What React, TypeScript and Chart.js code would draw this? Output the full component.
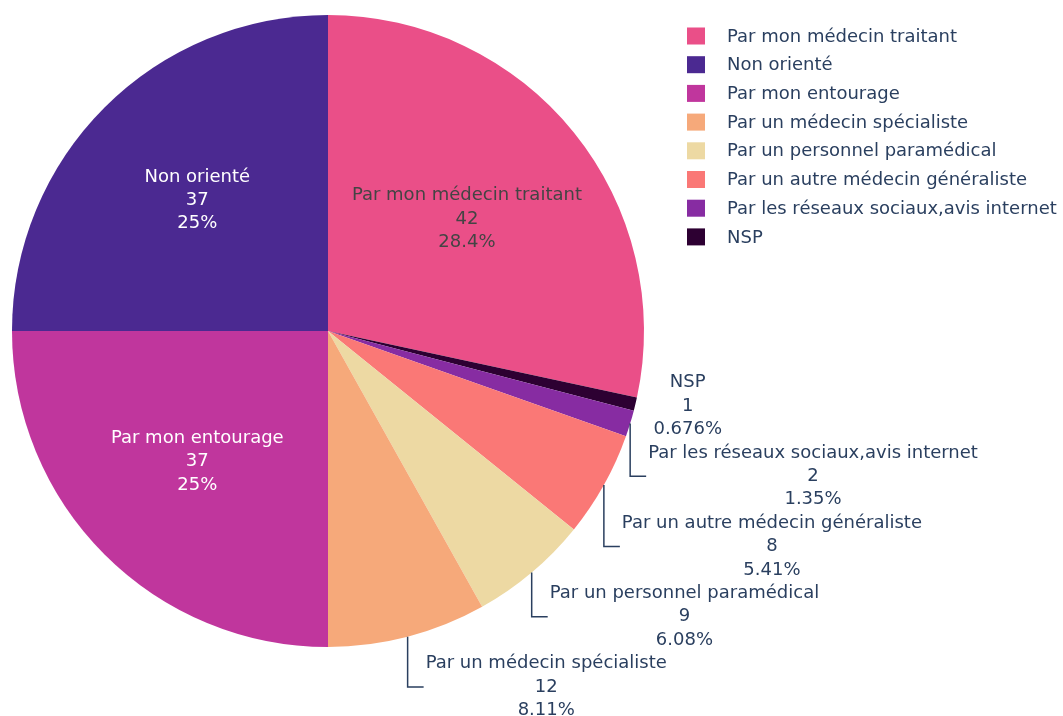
import React, { useEffect, useRef } from "react";
import { Chart, registerables } from "chart.js";

Chart.register(...registerables);

// Slices in clockwise order starting at 12 o'clock
const categories = [
  "Par mon médecin traitant",
  "NSP",
  "Par les réseaux sociaux,avis internet",
  "Par un autre médecin généraliste",
  "Par un personnel paramédical",
  "Par un médecin spécialiste",
  "Par mon entourage",
  "Non orienté",
];
const values = [42, 1, 2, 8, 9, 12, 37, 37];
const colors = [
  "rgb(234,79,136)",
  "rgb(45,0,50)",
  "rgb(135,44,162)",
  "rgb(250,120,118)",
  "rgb(237,217,163)",
  "rgb(246,169,122)",
  "rgb(192,54,157)",
  "rgb(75,41,145)",
];
// Legend order (indices into categories)
const legendOrder = [0, 7, 6, 5, 4, 3, 2, 1];
// Which slices get their text inside, and its colour
const insideIdx = [0, 6, 7];
const insideColor: Record<number, string> = { 0: "#444444", 6: "#ffffff", 7: "#ffffff" };
// Outside labels, in order down the right side
const outsideIdx = [1, 2, 3, 4, 5];

const FONT = '"DejaVu Sans", Verdana, sans-serif';
const FS = 18;
const LH = 23.4;
const TEXT_COLOR = "#2a3f5f";

function pct(v: number, total: number): string {
  return Number(((v / total) * 100).toPrecision(3)).toString() + "%";
}

const labelPlugin = {
  id: "pieLabels",
  afterDatasetsDraw(chart: any) {
    const ctx = chart.ctx as CanvasRenderingContext2D;
    const meta = chart.getDatasetMeta(0);
    const data = chart.data.datasets[0].data as number[];
    const labels = chart.data.labels as string[];
    const total = data.reduce((a, b) => a + b, 0);
    ctx.save();
    ctx.font = `${FS}px ${FONT}`;
    ctx.textAlign = "center";
    ctx.textBaseline = "middle";

    // inside labels
    insideIdx.forEach((i) => {
      const arc = meta.data[i];
      const { x, y, startAngle, endAngle, outerRadius } = arc.getProps(
        ["x", "y", "startAngle", "endAngle", "outerRadius"],
        true
      );
      const mid = (startAngle + endAngle) / 2;
      const r = outerRadius * (i === 0 ? 0.565 : 0.585);
      const cx = x + Math.cos(mid) * r;
      const cy = y + Math.sin(mid) * r;
      ctx.fillStyle = insideColor[i];
      const lines = [labels[i], String(data[i]), pct(data[i], total)];
      lines.forEach((t, k) => ctx.fillText(t, cx, cy + (k - 1) * LH));
    });

    // outside labels
    let prevY = -Infinity;
    ctx.strokeStyle = TEXT_COLOR;
    ctx.lineWidth = 1.5;
    outsideIdx.forEach((i, n) => {
      const arc = meta.data[i];
      const { x, y, startAngle, endAngle, outerRadius } = arc.getProps(
        ["x", "y", "startAngle", "endAngle", "outerRadius"],
        true
      );
      const mid = (startAngle + endAngle) / 2;
      const ex = x + Math.cos(mid) * outerRadius;
      const ey = y + Math.sin(mid) * outerRadius;
      let ty = n === 0 ? ey + 2 : Math.max(ey, prevY + 3 * LH);
      prevY = ty;
      const lines = [labels[i], String(data[i]), pct(data[i], total)];
      const w = Math.max(...lines.map((t) => ctx.measureText(t).width));
      const left = ex + 18;
      if (n > 0) {
        ctx.beginPath();
        ctx.moveTo(ex, ey);
        ctx.lineTo(ex, ty);
        ctx.lineTo(ex + 16, ty);
        ctx.stroke();
      }
      ctx.fillStyle = TEXT_COLOR;
      lines.forEach((t, k) => ctx.fillText(t, left + w / 2, ty + (k - 1) * LH));
    });

    // legend
    ctx.textAlign = "left";
    legendOrder.forEach((i, k) => {
      const cy = 36 + k * 28.7;
      ctx.fillStyle = colors[i];
      ctx.fillRect(687, cy - 8.5, 18, 17);
      ctx.fillStyle = TEXT_COLOR;
      ctx.fillText(labels[i], 727, cy + 1);
    });
    ctx.restore();
  },
};

export default function App() {
  const ref = useRef<HTMLCanvasElement>(null);
  useEffect(() => {
    if (!ref.current) return;
    const chart = new Chart(ref.current, {
      type: "pie",
      data: {
        labels: categories,
        datasets: [
          {
            data: values,
            backgroundColor: colors,
            borderWidth: 0,
          },
        ],
      },
      options: {
        animation: false,
        responsive: false,
        layout: { padding: { left: 12, top: 15, right: 419, bottom: 69 } },
        plugins: {
          legend: { display: false },
          tooltip: { enabled: false },
        },
      },
      plugins: [labelPlugin],
    });
    return () => chart.destroy();
  }, []);
  return (
    <div style={{ position: "fixed", left: 0, top: 0, width: 1063, height: 716, background: "#fff" }}>
      <canvas ref={ref} width={1063} height={716} style={{ width: 1063, height: 716 }} />
    </div>
  );
}
